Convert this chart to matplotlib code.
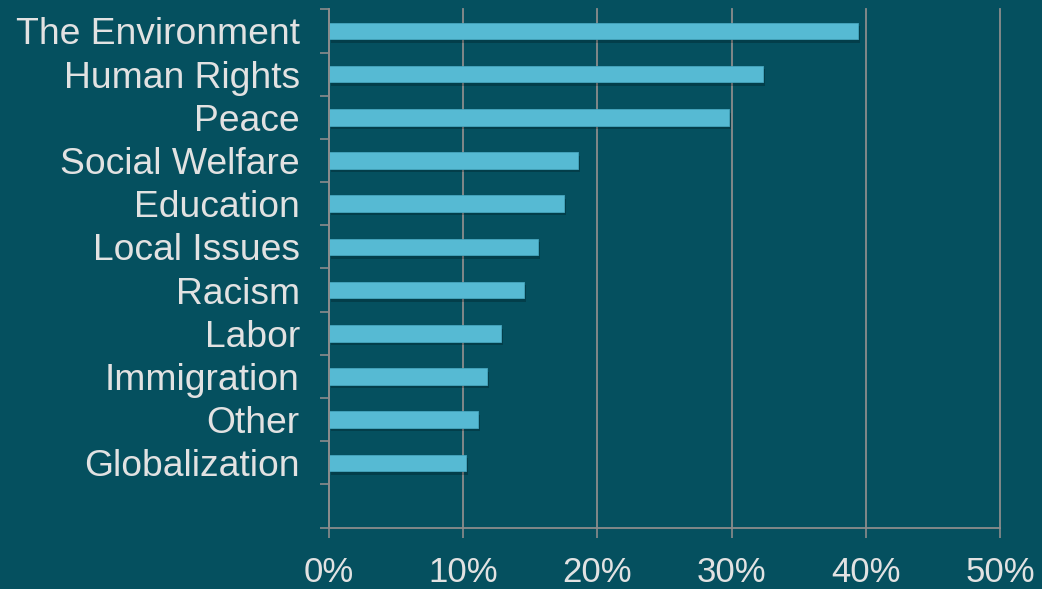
import matplotlib.pyplot as plt
import matplotlib.patheffects as pe
from matplotlib.ticker import FuncFormatter, FixedLocator

categories = ['The Environment', 'Human Rights', 'Peace', 'Social Welfare',
              'Education', 'Local Issues', 'Racism', 'Labor', 'Immigration',
              'Other', 'Globalization']
values = [39.4, 32.3, 29.8, 18.55, 17.5, 15.6, 14.5, 12.8, 11.75, 11.1, 10.2]
x_ticks = [0, 10, 20, 30, 40, 50]

BG = '#05505f'
BAR = '#56bad3'
GRID = '#8c8c8c'
TEXT = '#e2e2e2'


def pct(x, pos):
    return f'{x:.0f}%'


def main():
    plt.rcParams['font.family'] = ['Liberation Sans', 'DejaVu Sans']
    fig = plt.figure(figsize=(10.42, 5.89), dpi=100, facecolor=BG)
    ax = fig.add_axes([0.3157, 0.1041, 0.6441, 0.8801], facecolor=BG)

    pos = list(range(len(categories)))
    bars = ax.barh(pos, values, height=0.38, color=BAR,
                   edgecolor='#47a6bf', linewidth=0.6, zorder=3)
    for b in bars:
        b.set_path_effects([pe.SimplePatchShadow(offset=(1.5, -2.5),
                                                 shadow_rgbFace='black',
                                                 alpha=0.22),
                            pe.Normal()])

    # 12 slots, last one empty
    ax.set_ylim(11.5, -0.5)
    ax.set_xlim(0, 50)

    ax.yaxis.set_major_locator(FixedLocator([i - 0.5 for i in range(13)]))
    ax.yaxis.set_minor_locator(FixedLocator(pos))
    ax.set_yticklabels([], minor=False)
    ax.set_yticklabels(categories, minor=True)
    ax.tick_params(axis='y', which='major', length=6.5, width=1.2,
                   color=GRID, direction='out')
    ax.tick_params(axis='y', which='minor', length=0, pad=21,
                   labelsize=26.8, labelcolor=TEXT)

    ax.set_xticks(x_ticks)
    ax.xaxis.set_major_formatter(FuncFormatter(pct))
    ax.tick_params(axis='x', length=7.2, width=1.2, color=GRID, pad=13,
                   labelsize=25, labelcolor=TEXT)

    ax.grid(axis='x', color=GRID, linewidth=1.3, zorder=1)
    for gl in ax.xaxis.get_gridlines():
        gl.set_clip_on(False)
    ax.set_axisbelow(True)
    for s in ['top', 'right']:
        ax.spines[s].set_visible(False)
    for s in ['left', 'bottom']:
        ax.spines[s].set_color(GRID)
        ax.spines[s].set_linewidth(1.3)
        ax.spines[s].set_zorder(4)

    fig.savefig('out.png', dpi=100, facecolor=BG)


if __name__ == "__main__":
    main()
